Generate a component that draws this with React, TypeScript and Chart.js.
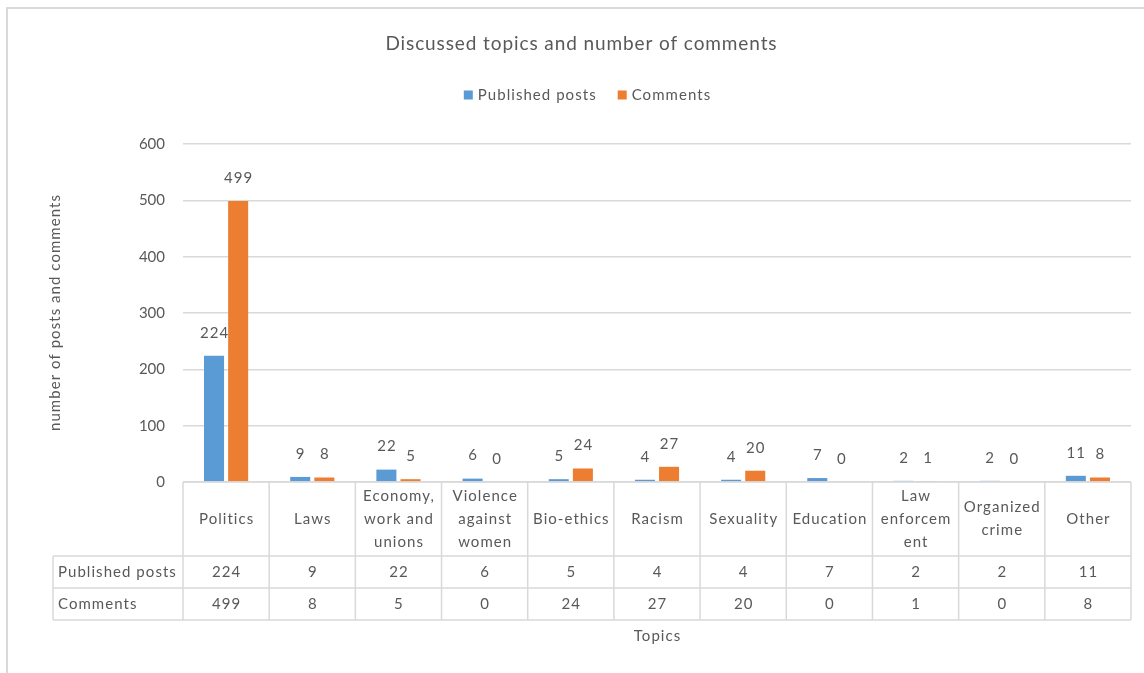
import React, { useEffect, useRef } from "react";
import { Chart, registerables } from "chart.js";

Chart.register(...registerables);

const chartTitle = "Discussed topics and number of comments";
const yAxisTitle = "number of posts and comments";
const xAxisTitle = "Topics";
const categories: string[][] = [
  ["Politics"],
  ["Laws"],
  ["Economy,", "work and", "unions"],
  ["Violence", "against", "women"],
  ["Bio-ethics"],
  ["Racism"],
  ["Sexuality"],
  ["Education"],
  ["Law", "enforcem", "ent"],
  ["Organized", "crime"],
  ["Other"],
];
const seriesNames = ["Published posts", "Comments"];
const postsValues = [224, 9, 22, 6, 5, 4, 4, 7, 2, 2, 11];
const commentsValues = [499, 8, 5, 0, 24, 27, 20, 0, 1, 0, 8];
const seriesColors = ["#5b9bd5", "#ed7d31"];
const yMax = 600;
const yStep = 100;

const FONT = "Lato, 'Open Sans', sans-serif";
const TEXT = "#595959";
const GRID = "#d9d9d9";
const BODY = 15;
const SP = 1.05;

function setFont(ctx: CanvasRenderingContext2D, size: number, spacing: number) {
  ctx.font = `${size}px ${FONT}`;
  (ctx as any).letterSpacing = `${spacing}px`;
}

function centerText(ctx: CanvasRenderingContext2D, text: string, x: number, y: number, spacing: number) {
  ctx.textAlign = "center";
  ctx.textBaseline = "middle";
  ctx.fillText(text, x + spacing / 2, y);
}

const decorPlugin = {
  id: "decor",
  beforeDraw(chart: any) {
    const ctx: CanvasRenderingContext2D = chart.ctx;
    ctx.save();
    ctx.fillStyle = "#ffffff";
    ctx.fillRect(0, 0, chart.width, chart.height);
    ctx.strokeStyle = GRID;
    ctx.lineWidth = 2;
    ctx.beginPath();
    ctx.moveTo(7, chart.height);
    ctx.lineTo(7, 8);
    ctx.lineTo(chart.width, 8);
    ctx.stroke();
    ctx.restore();
  },
  afterDatasetsDraw(chart: any) {
    const ctx: CanvasRenderingContext2D = chart.ctx;
    ctx.save();
    setFont(ctx, BODY, SP);
    ctx.fillStyle = TEXT;
    chart.data.datasets.forEach((ds: any, di: number) => {
      const meta = chart.getDatasetMeta(di);
      meta.data.forEach((el: any, i: number) => {
        centerText(ctx, String(ds.data[i]), el.x, el.y - 23, SP);
      });
    });
    ctx.restore();
  },
  afterDraw(chart: any) {
    const ctx: CanvasRenderingContext2D = chart.ctx;
    const area = chart.chartArea;
    const xs = chart.scales.x;
    const n = categories.length;
    const colW = (area.right - area.left) / n;
    const headerH = 74;
    const rowH = 32;
    const rowHeaderLeft = 53;
    const top = area.bottom;
    const r1 = top + headerH;
    const r2 = r1 + rowH;
    const r3 = r2 + rowH;
    ctx.save();

    // title
    ctx.fillStyle = TEXT;
    setFont(ctx, 19, 0.9);
    centerText(ctx, chartTitle, 581, 44, 0.9);

    // legend
    setFont(ctx, BODY, SP);
    const legendItems = seriesNames.map((name, i) => ({ name, color: seriesColors[i], w: ctx.measureText(name).width }));
    const box = 9;
    const gapBoxText = 5;
    const gapItems = 21;
    const totalW = legendItems.reduce((s, it) => s + box + gapBoxText + it.w, 0) + gapItems * (legendItems.length - 1);
    let lx = 587.5 - totalW / 2;
    const ly = 95;
    legendItems.forEach((it) => {
      ctx.fillStyle = it.color;
      ctx.fillRect(lx, ly - box / 2, box, box);
      ctx.fillStyle = TEXT;
      ctx.textAlign = "left";
      ctx.textBaseline = "middle";
      ctx.fillText(it.name, lx + box + gapBoxText, ly);
      lx += box + gapBoxText + it.w + gapItems;
    });

    // y axis title
    ctx.save();
    ctx.translate(55, (area.top + area.bottom) / 2);
    ctx.rotate(-Math.PI / 2);
    setFont(ctx, BODY, SP);
    ctx.fillStyle = TEXT;
    centerText(ctx, yAxisTitle, 0, 0, SP);
    ctx.restore();

    // table lines
    ctx.strokeStyle = GRID;
    ctx.lineWidth = 1.5;
    ctx.beginPath();
    [top, r1, r2, r3].forEach((y, k) => {
      ctx.moveTo(k === 0 ? area.left : rowHeaderLeft, y);
      ctx.lineTo(area.right, y);
    });
    for (let i = 0; i <= n; i++) {
      const x = i < n ? xs.getPixelForValue(i) - colW / 2 : xs.getPixelForValue(n - 1) + colW / 2;
      ctx.moveTo(x, top);
      ctx.lineTo(x, r3);
    }
    ctx.moveTo(rowHeaderLeft, r1);
    ctx.lineTo(rowHeaderLeft, r3);
    ctx.stroke();

    // table text
    ctx.fillStyle = TEXT;
    setFont(ctx, BODY, SP);
    const lineH = 23;
    categories.forEach((lines, i) => {
      const cx = xs.getPixelForValue(i);
      const cy = top + headerH / 2;
      lines.forEach((ln, k) => {
        centerText(ctx, ln, cx, cy + (k - (lines.length - 1) / 2) * lineH, SP);
      });
      centerText(ctx, String(postsValues[i]), cx, r1 + rowH / 2, SP);
      centerText(ctx, String(commentsValues[i]), cx, r2 + rowH / 2, SP);
    });
    ctx.textAlign = "left";
    ctx.textBaseline = "middle";
    ctx.fillText(seriesNames[0], rowHeaderLeft + 5, r1 + rowH / 2);
    ctx.fillText(seriesNames[1], rowHeaderLeft + 5, r2 + rowH / 2);

    // x axis title
    centerText(ctx, xAxisTitle, (area.left + area.right) / 2, r3 + 16, SP);

    ctx.restore();
  },
};

export default function App() {
  const canvasRef = useRef<HTMLCanvasElement | null>(null);

  useEffect(() => {
    if (!canvasRef.current) return;
    const chart = new Chart(canvasRef.current, {
      type: "bar",
      data: {
        labels: categories,
        datasets: [
          {
            label: seriesNames[0],
            data: postsValues,
            backgroundColor: seriesColors[0],
            categoryPercentage: 0.56,
            barPercentage: 0.83,
          },
          {
            label: seriesNames[1],
            data: commentsValues,
            backgroundColor: seriesColors[1],
            categoryPercentage: 0.56,
            barPercentage: 0.83,
          },
        ],
      },
      options: {
        responsive: false,
        animation: false,
        layout: { padding: { top: 144, left: 0, right: 13, bottom: 191 } },
        plugins: {
          legend: { display: false },
          title: { display: false },
          tooltip: { enabled: false },
        },
        scales: {
          x: { display: false },
          y: {
            min: 0,
            max: yMax,
            ticks: {
              stepSize: yStep,
              padding: 18,
              color: TEXT,
              font: { family: FONT, size: BODY },
            },
            grid: { color: GRID, lineWidth: 1.5, drawTicks: false },
            border: { display: false },
            afterFit: (axis: any) => {
              axis.width = 183;
            },
          },
        },
      },
      plugins: [decorPlugin],
    });
    return () => chart.destroy();
  }, []);

  return (
    <div style={{ position: "absolute", left: 0, top: 0, width: 1144, height: 673, overflow: "hidden" }}>
      <canvas ref={canvasRef} width={1144} height={673} style={{ display: "block" }} />
    </div>
  );
}
